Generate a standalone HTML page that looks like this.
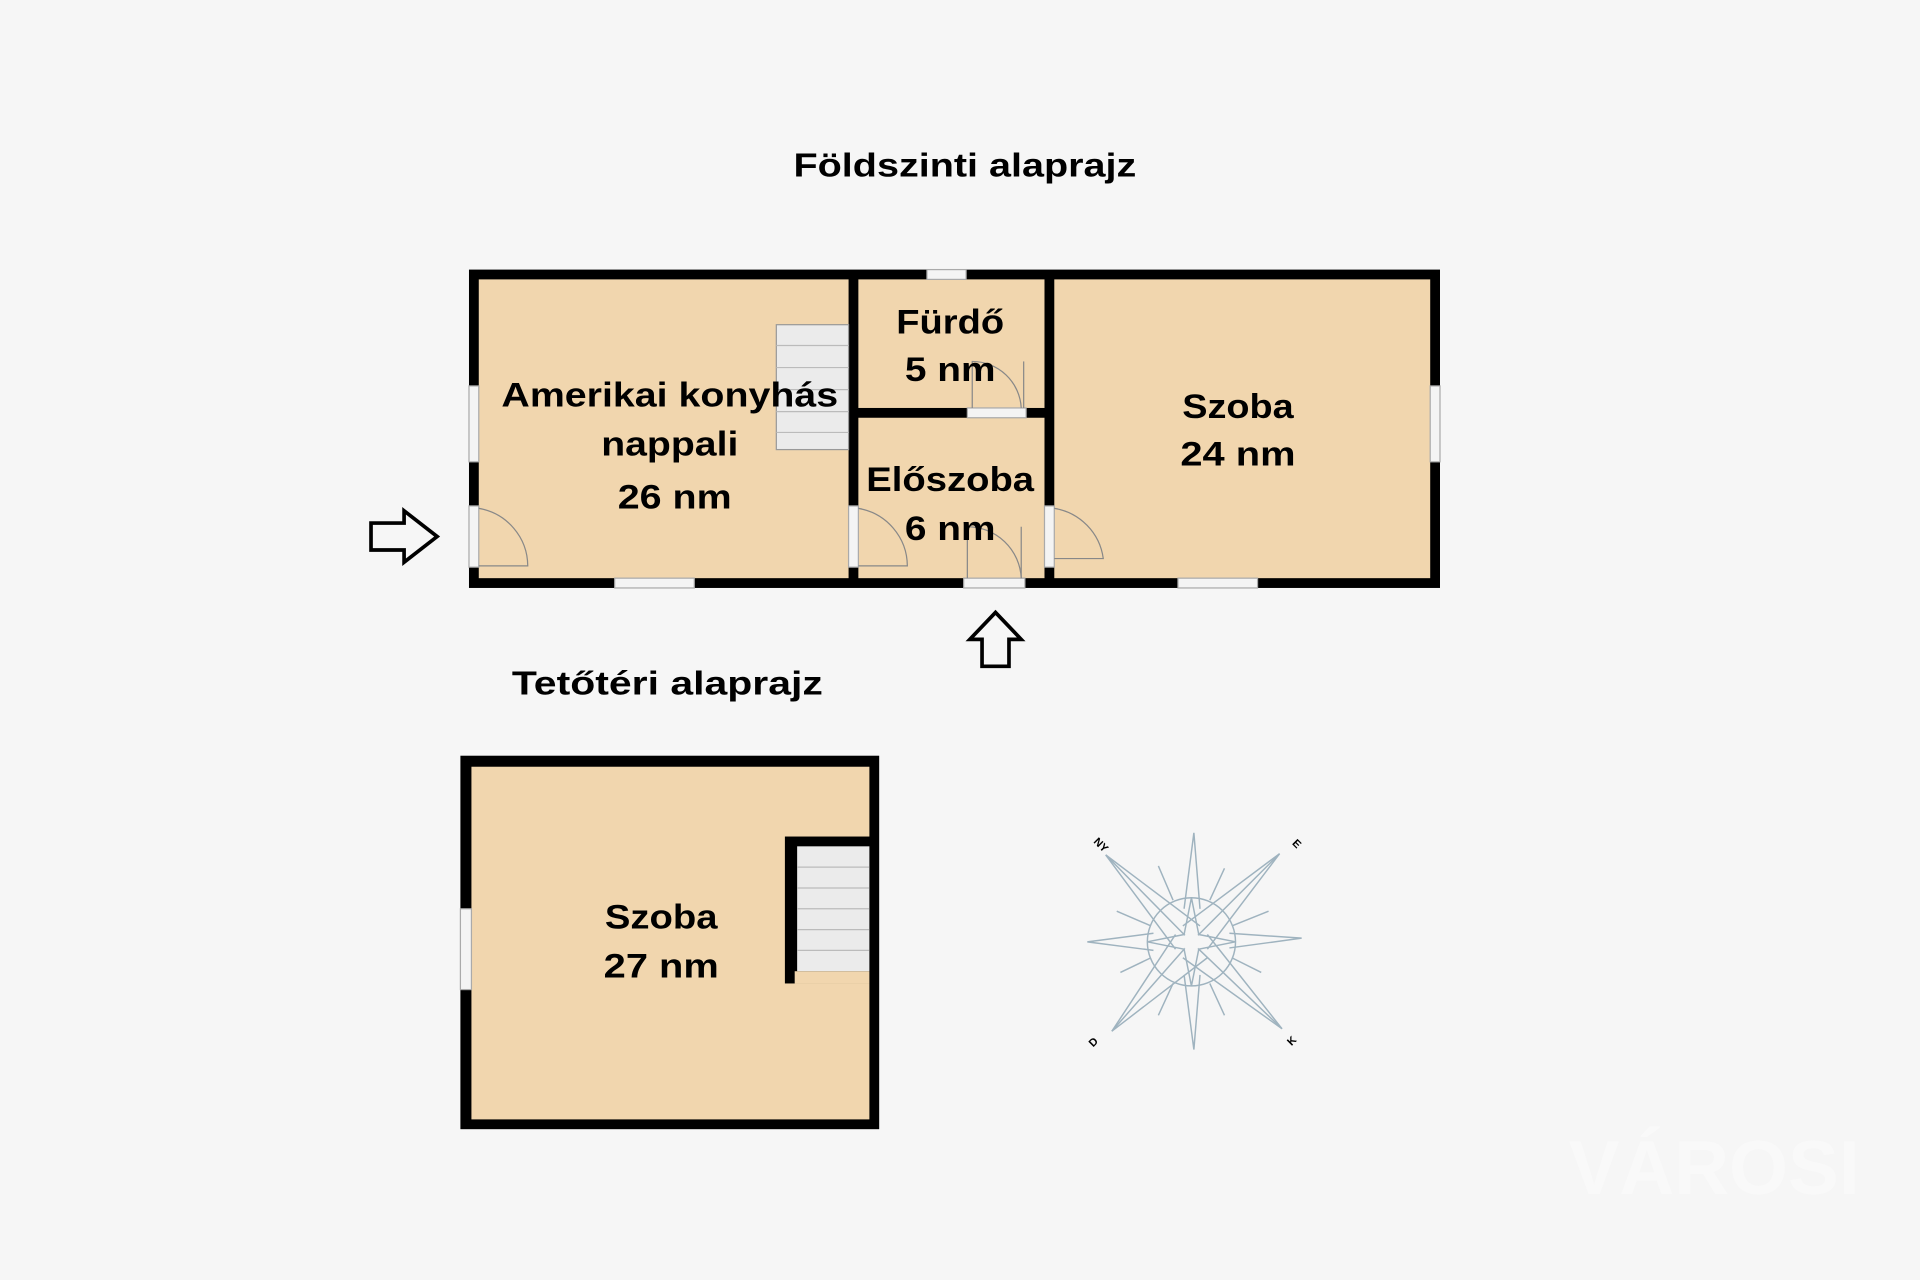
<!DOCTYPE html>
<html><head><meta charset="utf-8"><style>
html,body{margin:0;padding:0;background:#f6f6f6;}
svg{display:block}
text{font-family:"Liberation Sans",sans-serif;font-weight:bold;fill:#000;text-anchor:middle}
</style></head><body>
<svg width="1920" height="1280" viewBox="0 0 1568 1045" xmlns="http://www.w3.org/2000/svg">
<rect width="1568" height="1045" fill="#f6f6f6"/>
<text x="788" y="144" font-size="27" textLength="280" lengthAdjust="spacingAndGlyphs">Földszinti alaprajz</text>
<text x="545" y="567" font-size="27" textLength="254" lengthAdjust="spacingAndGlyphs">Tetőtéri alaprajz</text>

<!-- ground floor -->
<rect x="383" y="220" width="793" height="260" fill="#000"/>
<rect x="391" y="228" width="302" height="244" fill="#f1d6ae"/>
<rect x="701" y="228" width="152" height="105" fill="#f1d6ae"/>
<rect x="701" y="341" width="152" height="131" fill="#f1d6ae"/>
<rect x="861" y="228" width="307" height="244" fill="#f1d6ae"/>
<g fill="#f4f4f4" stroke="#aaa" stroke-width="1">
<rect x="757" y="220" width="32" height="8"/>
<rect x="383" y="315" width="8" height="62"/>
<rect x="502" y="472" width="65" height="8"/>
<rect x="962" y="472" width="65" height="8"/>
<rect x="1168" y="315" width="8" height="62"/>
<rect x="383" y="413" width="8" height="50"/>
<rect x="787" y="472" width="50" height="8"/>
<rect x="790" y="333" width="48" height="8"/>
<rect x="693" y="413" width="8" height="50"/>
<rect x="853" y="413" width="8" height="50"/>
</g>
<g fill="none" stroke="#888" stroke-width="1">
<path d="M391 415 A48 48 0 0 1 431 462 L391 462"/>
<path d="M701 415 A48 48 0 0 1 741 462 L701 462"/>
<path d="M861 415 A48 48 0 0 1 901 456 L861 456"/>
<path d="M834 472 A44 44 0 0 0 790 430 L790 472"/>
<path d="M834 333 A40 40 0 0 0 794 295 L794 333"/>
<line x1="834" y1="430" x2="834" y2="472"/>
<line x1="836" y1="295" x2="836" y2="333"/>
</g>
<rect x="634" y="265" width="59" height="102" fill="#ebebeb" stroke="#999" stroke-width="1"/>
<g stroke="#bbb" stroke-width="1">
<line x1="634" y1="282" x2="693" y2="282"/><line x1="634" y1="300" x2="693" y2="300"/>
<line x1="634" y1="318" x2="693" y2="318"/><line x1="634" y1="336" x2="693" y2="336"/>
<line x1="634" y1="353" x2="693" y2="353"/>
</g>
<g font-size="28" lengthAdjust="spacingAndGlyphs">
<text x="547" y="332" textLength="275" lengthAdjust="spacingAndGlyphs">Amerikai konyhás</text>
<text x="547" y="372" textLength="112" lengthAdjust="spacingAndGlyphs">nappali</text>
<text x="551" y="415" textLength="93" lengthAdjust="spacingAndGlyphs">26 nm</text>
<text x="776" y="272" textLength="88" lengthAdjust="spacingAndGlyphs">Fürdő</text>
<text x="776" y="311" textLength="74" lengthAdjust="spacingAndGlyphs">5 nm</text>
<text x="776" y="401" textLength="137" lengthAdjust="spacingAndGlyphs">Előszoba</text>
<text x="776" y="441" textLength="74" lengthAdjust="spacingAndGlyphs">6 nm</text>
<text x="1011" y="341" textLength="91" lengthAdjust="spacingAndGlyphs">Szoba</text>
<text x="1011" y="380" textLength="94" lengthAdjust="spacingAndGlyphs">24 nm</text>
</g>
<path d="M303 427 L330 427 L330 417 L357 438 L330 459 L330 449 L303 449 Z" fill="none" stroke="#000" stroke-width="3"/>
<path d="M802 544 L802 522 L792 522 L813 500 L834 522 L824 522 L824 544 Z" fill="none" stroke="#000" stroke-width="3"/>

<!-- attic -->
<rect x="376" y="617" width="342" height="305" fill="#000"/>
<rect x="385" y="626" width="325" height="288" fill="#f1d6ae"/>
<rect x="641" y="683" width="71" height="120" fill="#000"/>
<rect x="651" y="691" width="59" height="102" fill="#ebebeb"/>
<rect x="649" y="793" width="61" height="10" fill="#f1d6ae"/>
<g stroke="#bbb" stroke-width="1">
<line x1="651" y1="708" x2="710" y2="708"/><line x1="651" y1="725" x2="710" y2="725"/>
<line x1="651" y1="742" x2="710" y2="742"/><line x1="651" y1="759" x2="710" y2="759"/>
<line x1="651" y1="776" x2="710" y2="776"/>
</g>
<rect x="376" y="742" width="9" height="66" fill="#f4f4f4" stroke="#aaa" stroke-width="1"/>
<text x="540" y="758" font-size="28" textLength="92" lengthAdjust="spacingAndGlyphs">Szoba</text>
<text x="540" y="798" font-size="28" textLength="94" lengthAdjust="spacingAndGlyphs">27 nm</text>

<!-- compass -->
<g fill="none" stroke="#9fb3bf" stroke-width="1.2">
<circle cx="973" cy="769" r="36"/>
<path d="M903 698 L967 763 L973 733 L979 763 L1045 697 L979 763 L1009 769 L979 775 L1047 840 L979 775 L973 805 L967 775 L908 842 L967 775 L937 769 L967 763 Z"/>
<path d="M903 698 L960 775 M903 698 L980 756 M1045 697 L966 756 M1045 697 L986 775 M1047 840 L966 782 M1047 840 L986 763 M908 842 L986 782 M908 842 L960 763"/>
<path d="M967 742 L975 680 L980 742 M967 796 L975 857 L980 796 M942 762 L888 769 L942 776 M1004 762 L1063 766 L1004 774"/>
<path d="M958 735 L946 707 M988 735 L1000 709 M958 803 L946 829 M988 803 L1000 829 M940 756 L912 744 M940 782 L915 794 M1006 756 L1036 744 M1006 782 L1030 794"/>
</g>
<g font-size="9">
<text x="897" y="692" transform="rotate(45 897 692)">NY</text>
<text x="1057" y="691" transform="rotate(45 1057 691)">E</text>
<text x="895" y="853" transform="rotate(-45 895 853)">D</text>
<text x="1057" y="852" transform="rotate(-45 1057 852)">K</text>
</g>
<text x="1400" y="975" font-size="62" style="fill:#ffffff;opacity:0.35">VÁROSI</text>
</svg>
</body></html>
